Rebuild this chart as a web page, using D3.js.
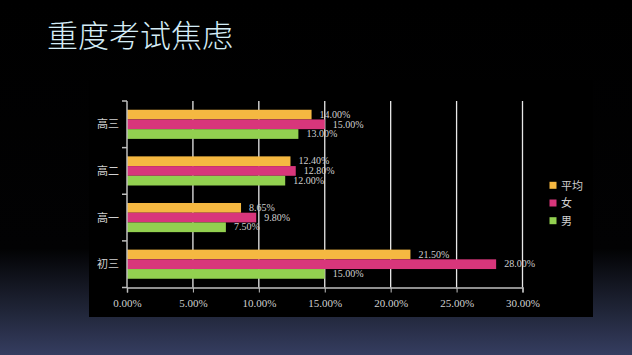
<!DOCTYPE html>
<html><head><meta charset="utf-8">
<script src="https://cdn.jsdelivr.net/npm/d3@7/dist/d3.min.js"></script>
<style>body{margin:0;background:#000;}svg{display:block;}</style>
</head><body>
<script>
const categories = ["高三", "高二", "高一", "初三"];
const seriesNames = ["平均", "女", "男"];
const avgValues = [14.0, 12.4, 8.65, 21.5];
const femaleValues = [15.0, 12.8, 9.8, 28.0];
const maleValues = [13.0, 12.0, 7.5, 15.0];
const xTicks = [0, 5, 10, 15, 20, 25, 30];
const colors = ["#F5B841", "#D8367B", "#92D050"];
const title = "重度考试焦虑";

const W = 632, H = 355;
const svg = d3.select("body").append("svg").attr("width", W).attr("height", H);
const defs = svg.append("defs");
const g = defs.append("linearGradient").attr("id", "bg").attr("x1", 0).attr("y1", 0).attr("x2", 0).attr("y2", 1);
g.append("stop").attr("offset", "0").attr("stop-color", "#000");
g.append("stop").attr("offset", "0.70").attr("stop-color", "#020203");
g.append("stop").attr("offset", "0.87").attr("stop-color", "#1f2436");
g.append("stop").attr("offset", "1").attr("stop-color", "#353d60");
svg.append("rect").attr("width", W).attr("height", H).attr("fill", "url(#bg)");
svg.append("rect").attr("x", 89).attr("y", 80).attr("width", 504).attr("height", 237).attr("fill", "#000");

svg.append("text").attr("x", 47).attr("y", 47).text(title)
  .attr("font-family", "'Noto Sans CJK SC'").attr("font-weight", 300)
  .attr("font-size", 31).attr("fill", "#d4ecf6");

const x = d3.scaleLinear().domain([0, 30]).range([127, 522.5]);
const y = d3.scaleBand().domain(categories).range([101, 287.5]).paddingInner(0.375).paddingOuter(0.1875);
const ySub = d3.scaleBand().domain(seriesNames).range([0, y.bandwidth()]);
const seriesVals = [avgValues, femaleValues, maleValues];

// grid
svg.append("g").selectAll("line").data(xTicks.slice(1)).join("line")
  .attr("x1", d => x(d)).attr("x2", d => x(d)).attr("y1", 101).attr("y2", 287.5)
  .attr("stroke", "#e8e8e8").attr("stroke-width", 1.3);

// bars
seriesNames.forEach((s, si) => {
  svg.append("g").selectAll("rect").data(categories).join("rect")
    .attr("x", x(0)).attr("y", (c) => y(c) + ySub(s))
    .attr("width", (c, i) => x(seriesVals[si][i]) - x(0))
    .attr("height", ySub.bandwidth()).attr("fill", colors[si]);
  svg.append("g").selectAll("text").data(categories).join("text")
    .attr("x", (c, i) => x(seriesVals[si][i]) + 8)
    .attr("y", c => y(c) + ySub(s) + ySub.bandwidth() / 2 + 3.2)
    .text((c, i) => seriesVals[si][i].toFixed(2) + "%")
    .attr("font-family", "'Liberation Serif'").attr("font-size", 10).attr("fill", "#d0d0d0");
});

// x axis
const xAxis = d3.axisBottom(x).tickValues(xTicks).tickFormat(d => d.toFixed(2) + "%").tickSizeOuter(0).tickSize(5);
const xa = svg.append("g").attr("transform", "translate(0,287.5)").call(xAxis);
xa.select(".domain").attr("stroke", "#bfbfbf").attr("stroke-width", 1.5);
xa.selectAll(".tick line").attr("stroke", "#bfbfbf");
xa.selectAll("text").attr("font-family", "'Liberation Serif'").attr("font-size", 11).attr("fill", "#d0d0d0").attr("dy", "1em");

// y axis
const ya = svg.append("g").attr("transform", "translate(127,0)");
ya.append("line").attr("x1", 0).attr("x2", 0).attr("y1", 101).attr("y2", 287.5).attr("stroke", "#bfbfbf").attr("stroke-width", 1.5);
const yEdges = d3.range(categories.length + 1).map(i => 101 + i * (186.5 / categories.length));
ya.selectAll(".tk").data(yEdges).join("line").attr("class", "tk")
  .attr("x1", -5).attr("x2", 0).attr("y1", d => d).attr("y2", d => d).attr("stroke", "#bfbfbf").attr("stroke-width", 1.5);
ya.selectAll("text").data(categories).join("text")
  .attr("x", -8).attr("y", c => y(c) + y.bandwidth() / 2 + 4)
  .attr("text-anchor", "end").text(c => c)
  .attr("font-family", "'Noto Sans CJK SC'").attr("font-size", 11).attr("fill", "#d0d0d0");

// legend
const lg = svg.append("g");
seriesNames.forEach((s, i) => {
  lg.append("rect").attr("x", 549.5).attr("y", 181.8 + i * 17.7).attr("width", 7).attr("height", 7).attr("fill", colors[i]);
  lg.append("text").attr("x", 561).attr("y", 189.5 + i * 17.7).text(s)
    .attr("font-family", "'Noto Sans CJK SC'").attr("font-size", 11).attr("fill", "#d0d0d0");
});
</script>
</body></html>
